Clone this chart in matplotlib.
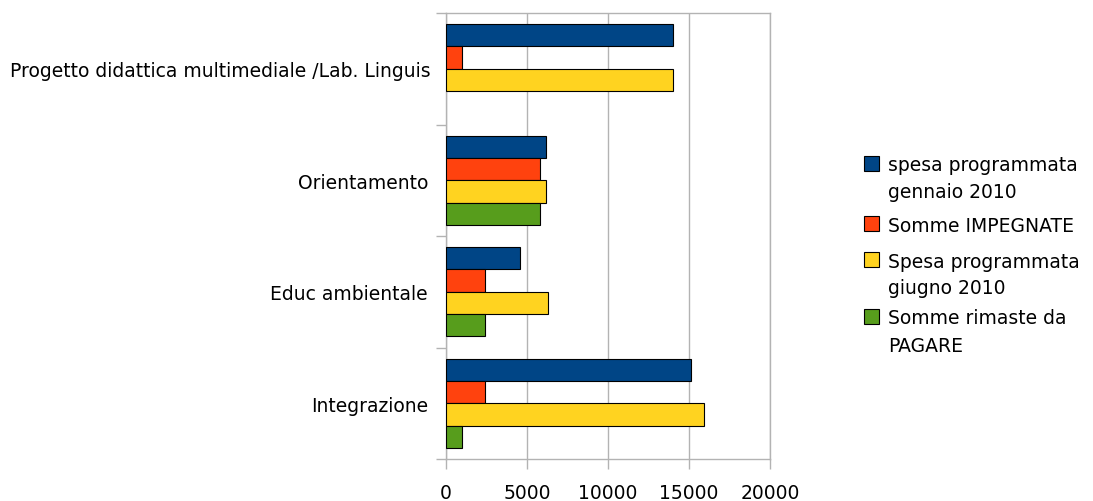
import matplotlib
matplotlib.use("Agg")
import matplotlib.pyplot as plt
import numpy as np
from matplotlib.patches import Rectangle
from matplotlib.transforms import ScaledTranslation

categories = ["Progetto didattica multimediale /Lab. Linguis", "Orientamento",
              "Educ ambientale", "Integrazione"]
series_names = ["spesa programmata\ngennaio 2010", "Somme IMPEGNATE",
                "Spesa programmata\ngiugno 2010", "Somme rimaste da\nPAGARE"]
spesa_gennaio = [14000, 6150, 4550, 15150]
somme_impegnate = [1000, 5800, 2400, 2400]
spesa_giugno = [14000, 6150, 6300, 15950]
somme_pagare = [0, 5800, 2400, 1000]
x_ticks = [0, 5000, 10000, 15000, 20000]

colors = ["#004586", "#ff420e", "#ffd320", "#579d1c"]
FS = 13.5
W, H = 1093, 502

plt.rcParams['font.family'] = ['DejaVu Sans']
fig = plt.figure(figsize=(W/100, H/100), dpi=100)
ax = fig.add_axes([446/W, 42/H, 324/W, 446/H])

series = [spesa_gennaio, somme_impegnate, spesa_giugno, somme_pagare]
n = len(categories)
pos = np.arange(n)[::-1]  # first category at top
h = 0.2
for i, (vals, c) in enumerate(zip(series, colors)):
    offs = (1.5 - i) * h
    bars = ax.barh(pos + offs, vals, height=h, color=c, edgecolor="black",
                   linewidth=0.8, zorder=3)
    for b, v in zip(bars, vals):
        if v == 0:
            b.set_visible(False)

ax.set_xlim(0, 20000)
ax.set_ylim(-0.5, n - 0.5)
ax.set_xticks(x_ticks)
ax.set_xticklabels([str(t) for t in x_ticks], fontsize=FS)
ax.set_yticks(pos)
ax.set_yticklabels(categories, fontsize=FS)
ax.set_yticks(np.arange(n + 1) - 0.5, minor=True)
ax.tick_params(axis='y', which='major', length=0, pad=13)
ax.tick_params(axis='y', which='minor', length=7.2, color="#b3b3b3", width=1)
ax.tick_params(axis='x', which='major', length=7.2, color="#b3b3b3", width=1, pad=10)
ax.grid(axis='x', color="#b3b3b3", linewidth=1, zorder=0)
for s in ax.spines.values():
    s.set_color("#b3b3b3")
    s.set_linewidth(1)

# shift the long first label so it stays inside the figure
fig.canvas.draw()
lbl = ax.get_yticklabels()[0]
bb = lbl.get_window_extent(renderer=fig.canvas.get_renderer())
shift = 10 - bb.x0
if shift > 0:
    lbl.set_transform(lbl.get_transform() + ScaledTranslation(shift/100, 0, fig.dpi_scale_trans))

# manual legend (square aligned with the first text line)
sq_top = [157, 217, 253, 310]
line_gap = 27
for name, c, top in zip(series_names, colors, sq_top):
    fig.add_artist(Rectangle((864/W, 1 - (top + 15)/H), 15/W, 15/H,
                             transform=fig.transFigure, facecolor=c,
                             edgecolor="black", linewidth=0.8))
    for k, line in enumerate(name.split("\n")):
        fig.text(888/W, 1 - (top + 9 + k * line_gap)/H, line, fontsize=FS,
                 ha="left", va="center")

fig.savefig("out.png", dpi=100)
